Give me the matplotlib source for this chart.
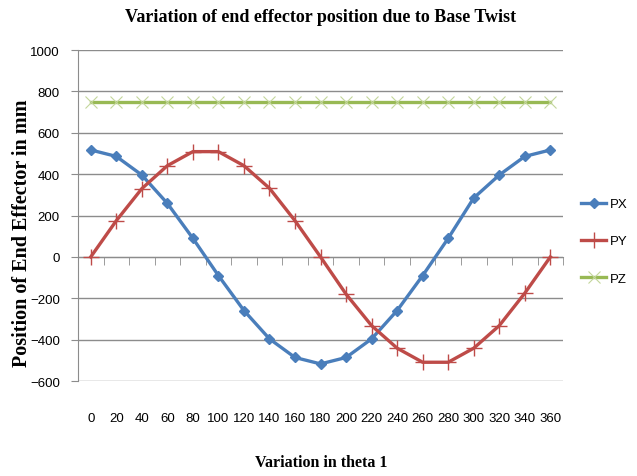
import matplotlib
matplotlib.use("Agg")
import matplotlib.pyplot as plt
from matplotlib import font_manager

# data
theta = [0, 20, 40, 60, 80, 100, 120, 140, 160, 180,
         200, 220, 240, 260, 280, 300, 320, 340, 360]
px = [517, 486, 396, 259, 90, -90, -259, -396, -486, -517,
      -486, -396, -259, -90, 90, 285, 396, 486, 517]
py = [0, 175, 330, 441, 509, 509, 441, 332, 175, 0,
      -180, -332, -441, -509, -509, -441, -332, -175, 0]
pz = [750, 750, 750, 750, 750, 750, 750, 750, 750, 750,
      750, 750, 750, 750, 750, 750, 750, 750, 750]
y_ticks = [-600, -400, -200, 0, 200, 400, 600, 800, 1000]

names = {f.name for f in font_manager.fontManager.ttflist}
narrow = "Liberation Sans Narrow" if "Liberation Sans Narrow" in names else "Liberation Sans"
serif = "Liberation Serif"

grid_col = "#8c8c8c"

fig = plt.figure(figsize=(6.37, 4.77), dpi=100)
ax = fig.add_axes([0.1224, 0.199, 0.884 - 0.1224, 0.893 - 0.199])

x = list(range(len(theta)))
ax.plot(x, px, color="#4a7ebb", lw=2.4, marker="D", ms=5, label="PX", zorder=3)
ax.plot(x, py, color="#be4b48", lw=2.4, marker="+", ms=11, mew=1.0, label="PY", zorder=3)
ax.plot(x, pz, color="#98b954", lw=2.4, marker="x", ms=8, mew=0.8,
        mec="#c3d69b", label="PZ", zorder=3)

ax.set_xlim(-0.5, len(theta) - 0.5)
ax.set_ylim(-600, 1000)
ax.set_yticks(y_ticks)
ax.yaxis.grid(True, color=grid_col, lw=1.0)
ax.set_axisbelow(True)

for s in ("top", "right"):
    ax.spines[s].set_visible(False)
ax.spines["left"].set_color(grid_col)
ax.spines["bottom"].set_color(grid_col)
ax.spines["bottom"].set_position(("data", 0))

# category axis: boundary ticks on the zero line, labels at the bottom
ax.set_xticks([i - 0.5 for i in range(len(theta) + 1)], minor=True)
ax.tick_params(axis="x", which="minor", direction="out", length=6, color=grid_col)
ax.set_xticks(x, [str(t) for t in theta])
ax.tick_params(axis="x", which="major", length=0, pad=112, labelsize=9.5)
ax.tick_params(axis="y", direction="out", length=5, color=grid_col, labelsize=9.5, pad=8)
for lab in ax.get_xticklabels() + ax.get_yticklabels():
    lab.set_fontfamily(narrow)

fig.text(0.503, 0.963, "Variation of end effector position due to Base Twist",
         ha="center", va="center", fontsize=13, fontweight="bold", family=serif)
fig.text(0.035, 0.51, "Position of End Effector in mm", rotation=90,
         ha="center", va="center", fontsize=14.5, fontweight="bold", family=serif)
fig.text(0.505, 0.03, "Variation in theta 1",
         ha="center", va="center", fontsize=11.5, fontweight="bold", family=serif)

fig.legend(loc="center left", bbox_to_anchor=(0.894, 0.492), frameon=False,
           handlelength=1.9, handletextpad=0.25, labelspacing=1.9,
           prop={"family": narrow, "size": 9.5})

fig.savefig("out.png", dpi=100)
